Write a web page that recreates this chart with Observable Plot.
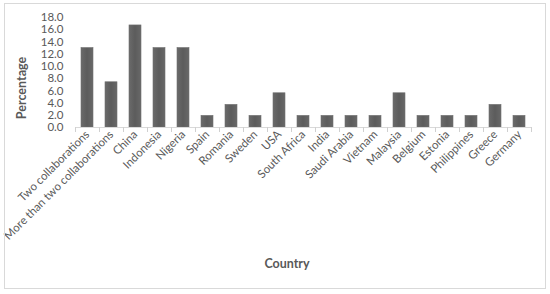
<!DOCTYPE html>
<html>
<head>
<meta charset="utf-8">
<script src="https://cdn.jsdelivr.net/npm/d3@7"></script>
<script src="https://cdn.jsdelivr.net/npm/@observablehq/plot@0.6"></script>
<style>
  html, body { margin: 0; padding: 0; background: #fff; }
  #wrap { position: relative; width: 550px; height: 294px; }
  #wrap svg { display: block; }
</style>
</head>
<body>
<div id="wrap"></div>
<script>
const categories = ["Two collaborations", "More than two collaborations", "China", "Indonesia", "Nigeria", "Spain", "Romania", "Sweden", "USA", "South Africa", "India", "Saudi Arabia", "Vietnam", "Malaysia", "Belgium", "Estonia", "Philippines", "Greece", "Germany"];
const percentages = [13.0, 7.4, 16.7, 13.0, 13.0, 1.9, 3.7, 1.9, 5.6, 1.9, 1.9, 1.9, 1.9, 5.6, 1.9, 1.9, 1.9, 3.7, 1.9];
const yTicks = [0, 2, 4, 6, 8, 10, 12, 14, 16, 18];
const xTitle = "Country";
const yTitle = "Percentage";

const data = categories.map((c, i) => ({country: c, value: percentages[i]}));
const font = "Lato, 'Open Sans', sans-serif";
const textColor = "#595959";

const chart = Plot.plot({
  width: 550,
  height: 294,
  marginLeft: 75,
  marginRight: 19,
  marginTop: 17,
  marginBottom: 167,
  style: {fontFamily: font, fontSize: "11px", color: textColor, background: "transparent"},
  x: {domain: categories, paddingInner: 0.5, paddingOuter: 0.25, round: false, label: null},
  y: {domain: [0, 18], label: null},
  marks: [
    Plot.barY(data, {x: "country", y: "value", fill: "url(#barGrad)", stroke: "#707070", strokeWidth: 0.6}),
    Plot.ruleY([0], {stroke: "#d9d9d9", strokeWidth: 1}),
    Plot.axisY({ticks: yTicks, tickFormat: d => d.toFixed(1), tickSize: 0, tickPadding: 12, fontSize: 11.5, fill: textColor, label: null}),
    Plot.axisX({tickSize: 0, tickPadding: 5, tickRotate: -45, fontSize: 11.5, fill: textColor, label: null})
  ]
});

document.getElementById("wrap").appendChild(chart);

const svg = d3.select(chart);
// gradient for bars
const defs = svg.insert("defs", ":first-child");
const grad = defs.append("linearGradient").attr("id", "barGrad").attr("x1", "0").attr("x2", "1").attr("y1", "0").attr("y2", "0");
grad.append("stop").attr("offset", "0%").attr("stop-color", "#6a6a6a");
grad.append("stop").attr("offset", "50%").attr("stop-color", "#5c5c5c");
grad.append("stop").attr("offset", "100%").attr("stop-color", "#686868");

// tick marks at band boundaries
const xs = chart.scale("x");
const ys = chart.scale("y");
const y0 = ys.apply(0);
const bw = xs.bandwidth;
const step = xs.step;
const bounds = categories.map(c => xs.apply(c) - (step - bw) / 2);
bounds.push(xs.apply(categories[categories.length - 1]) + bw + (step - bw) / 2);
const g = svg.append("g").attr("stroke", "#d0d0d0").attr("stroke-width", 1);
bounds.forEach(b => {
  g.append("line").attr("x1", Math.round(b) + 0.5).attr("x2", Math.round(b) + 0.5).attr("y1", y0).attr("y2", y0 + 5);
});

// axis titles
svg.append("text")
  .attr("transform", `translate(26, ${(ys.apply(18) + y0) / 2 + 16}) rotate(-90)`)
  .attr("text-anchor", "middle")
  .attr("font-family", font)
  .attr("font-size", 12.5)
  .attr("font-weight", "bold")
  .attr("fill", textColor)
  .text(yTitle);
svg.append("text")
  .attr("x", 287)
  .attr("y", 268)
  .attr("text-anchor", "middle")
  .attr("font-family", font)
  .attr("font-size", 12.5)
  .attr("font-weight", "bold")
  .attr("fill", textColor)
  .text(xTitle);

// chart border
svg.append("rect")
  .attr("x", 4.5).attr("y", 3.5).attr("width", 541).attr("height", 285)
  .attr("fill", "none").attr("stroke", "#d9d9d9").attr("stroke-width", 1);
</script>
</body>
</html>
